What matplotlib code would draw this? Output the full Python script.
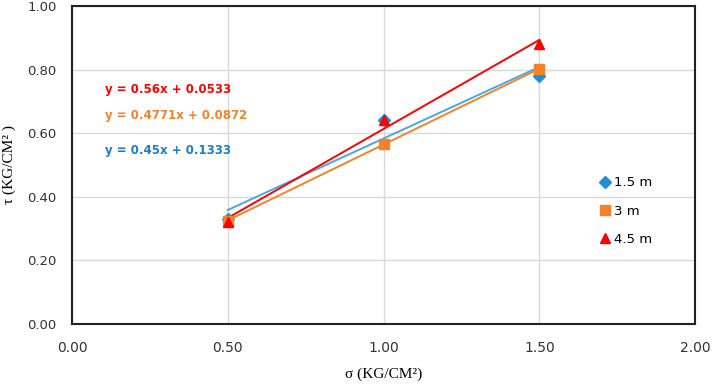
import numpy as np
import matplotlib.pyplot as plt

sigma = [0.5, 1.0, 1.5]
tau_15 = [0.33, 0.64, 0.78]
tau_30 = [0.325, 0.5658, 0.8021]
tau_45 = [0.32, 0.64, 0.88]
labels = ["1.5 m", "3 m", "4.5 m"]

# (values, marker, marker colour, trendline colour, marker size)
series = [
    (tau_15, "D", "#1f8fd6", "#4aa8e0", 6.0),
    (tau_30, "s", "#f5822a", "#f5822a", 7.0),
    (tau_45, "^", "#ff0000", "#ff0000", 7.5),
]
eq_colors = ["#1a7fc8", "#f5822a", "#ff0000"]
eq_y = [0.544, 0.654, 0.736]

fig = plt.figure(figsize=(7.13, 3.87), dpi=100)
ax = fig.add_axes([0.101, 0.163, 0.874, 0.8215])

x = np.array(sigma)
for (vals, mk, mc, lc, ms), lab, ec, ey in zip(series, labels, eq_colors, eq_y):
    m, b = np.polyfit(x, vals, 1)
    ax.plot(x, m * x + b, color=lc, linewidth=1.4, zorder=2)
    ax.plot(x, vals, linestyle="none", marker=mk, markersize=ms, color=mc,
            label=lab, zorder=3)
    ax.text(0.106, ey, f"y = {m:.4g}x + {b:.4f}",
            color=ec, fontsize=8.5, fontweight="bold", va="center")

ax.set_xlim(0, 2.0)
ax.set_ylim(0, 1.0)
ax.set_xticks([0, 0.5, 1.0, 1.5, 2.0])
ax.set_xticklabels(["0.00", "0.50", "1.00", "1.50", "2.00"], fontsize=10,
                   color="#333333")
ax.set_yticks([0, 0.2, 0.4, 0.6, 0.8, 1.0])
ax.set_yticklabels(["0.00", "0.20", "0.40", "0.60", "0.80", "1.00"], fontsize=9.5,
                   color="#333333")
ax.tick_params(axis="y", length=0, pad=11)
ax.tick_params(axis="x", length=0, pad=12)
ax.grid(True, color="#d9d9d9", linewidth=1.0)
ax.set_axisbelow(True)
for s in ax.spines.values():
    s.set_color("#222222")
    s.set_linewidth(1.5)

ax.set_xlabel("σ (KG/CM²)", family="Liberation Serif", fontsize=11, labelpad=9)
ax.set_ylabel("τ (KG/CM² )", family="Liberation Serif", fontsize=11, labelpad=8)

ax.legend(loc="center right", bbox_to_anchor=(0.95, 0.355), frameon=False,
          fontsize=9.5, handlelength=0.8, handletextpad=0.3, labelspacing=1.15)

fig.savefig("out.png", dpi=100)
